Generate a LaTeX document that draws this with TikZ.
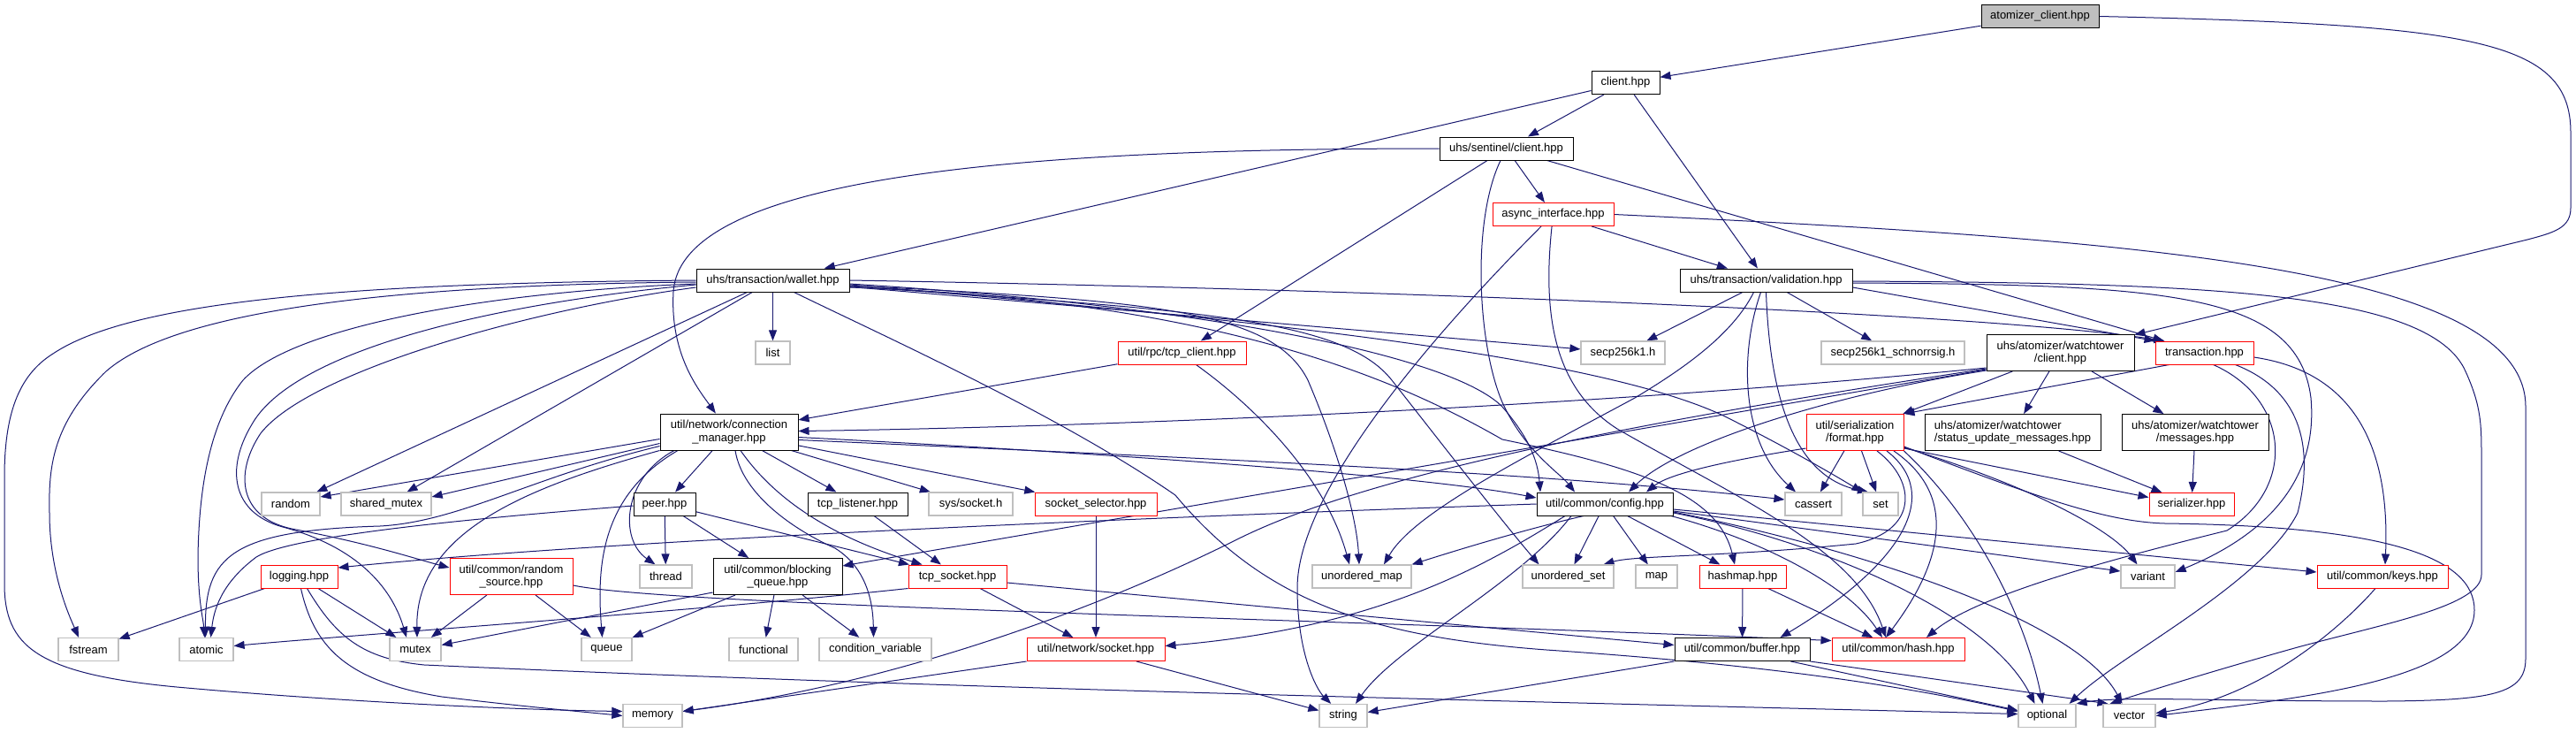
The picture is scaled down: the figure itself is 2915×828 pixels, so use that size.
\documentclass[tikz,border=0pt]{standalone}
\usepackage{fontspec}
\setmainfont{Liberation Sans}
\usetikzlibrary{arrows.meta}
\pgfdeclarelayer{bgfill}
\pgfdeclarelayer{background}
\pgfsetlayers{bgfill,background,main}
\definecolor{edgeblue}{HTML}{191970}
\definecolor{extgray}{HTML}{BFBFBF}
\definecolor{rootgray}{HTML}{BFBFBF}
\definecolor{trnred}{HTML}{FF0000}
\begin{document}
\begin{tikzpicture}[x=1pt,y=-1pt,
  box/.style={draw=black, line width=1pt, fill=white, inner sep=0pt, minimum height=26pt, font=\fontsize{13}{14.5}\selectfont, align=center, text=black},
  dbl/.style={minimum height=41pt},
  ext/.style={box, draw=extgray, line width=1.2pt},
  trn/.style={box, draw=trnred},
  root/.style={box, fill=rootgray},
  edge/.style={draw=edgeblue, line width=1pt, -{Triangle[length=12pt,width=9pt]}}
]
\useasboundingbox (0,0) rectangle (2915,828);
\begin{pgfonlayer}{bgfill}
\fill[white] (0,0) rectangle (2915,828);
\end{pgfonlayer}
% ---------- nodes ----------
\node[root, minimum width=133pt] (ac) at (2308.5,18.5) {atomizer\_client.hpp};
\node[box, minimum width=77pt] (cl) at (1839.5,93.5) {client.hpp};
\node[box, minimum width=151pt] (sc) at (1704.5,168) {uhs/sentinel/client.hpp};
\node[trn, minimum width=137pt] (ai) at (1757.5,242.5) {async\_interface.hpp};
\node[box, minimum width=173pt] (wa) at (874.5,317) {uhs/transaction/wallet.hpp};
\node[box, minimum width=195pt] (va) at (1998.5,317) {uhs/transaction/validation.hpp};
\node[ext, minimum width=39pt] (li) at (874.5,399) {list};
\node[trn, minimum width=145pt] (tc) at (1337.5,399) {util/rpc/tcp\_client.hpp};
\node[ext, minimum width=95pt] (s1) at (1836.5,399) {secp256k1.h};
\node[ext, minimum width=162pt] (s2) at (2142,399) {secp256k1\_schnorrsig.h};
\node[box, dbl, minimum width=167pt] (wc) at (2331.5,399) {uhs/atomizer/watchtower\\/client.hpp};
\node[trn, minimum width=111pt] (tr) at (2494.5,399) {transaction.hpp};
\node[box, dbl, minimum width=156pt] (cm) at (825,488.5) {util/network/connection\\\_manager.hpp};
\node[trn, dbl, minimum width=110pt] (fm) at (2099,489) {util/serialization\\/format.hpp};
\node[box, dbl, minimum width=199pt, align=left] (su) at (2277.5,489) {uhs/atomizer/watchtower\\/status\_update\_messages.hpp};
\node[box, dbl, minimum width=166pt] (ms) at (2484,489) {uhs/atomizer/watchtower\\/messages.hpp};
\node[ext, minimum width=66pt] (ra) at (329,570) {random};
\node[ext, minimum width=102pt] (sm) at (437,570) {shared\_mutex};
\node[box, minimum width=70pt] (pe) at (752,570) {peer.hpp};
\node[box, minimum width=113pt] (tl) at (970.5,570) {tcp\_listener.hpp};
\node[ext, minimum width=95pt] (ss) at (1098.5,570) {sys/socket.h};
\node[trn, minimum width=138pt] (sl) at (1240,570) {socket\_selector.hpp};
\node[box, minimum width=154pt] (cf) at (1816,570) {util/common/config.hpp};
\node[ext, minimum width=64pt] (ca) at (2052,570) {cassert};
\node[ext, minimum width=40pt] (se) at (2128,570) {set};
\node[trn, minimum width=96pt] (sz) at (2480,570.5) {serializer.hpp};
\node[trn, minimum width=87pt] (lo) at (338.5,652) {logging.hpp};
\node[trn, dbl, minimum width=139pt] (rs) at (578.5,652) {util/common/random\\\_source.hpp};
\node[ext, minimum width=59pt] (th) at (753.5,652) {thread};
\node[box, dbl, minimum width=146pt] (bq) at (880,652) {util/common/blocking\\\_queue.hpp};
\node[trn, minimum width=111pt] (ts) at (1083.5,652) {tcp\_socket.hpp};
\node[ext, minimum width=112pt] (um) at (1541,652) {unordered\_map};
\node[ext, minimum width=103pt] (us) at (1774.5,652) {unordered\_set};
\node[ext, minimum width=47pt] (mp) at (1874.5,652) {map};
\node[trn, minimum width=98pt] (hm) at (1972,652) {hashmap.hpp};
\node[ext, minimum width=61pt] (vr) at (2430.5,652) {variant};
\node[trn, minimum width=148pt] (ky) at (2696,652) {util/common/keys.hpp};
\node[ext, minimum width=68pt] (fs) at (100,734.5) {fstream};
\node[ext, minimum width=61pt] (atom) at (233.5,734.5) {atomic};
\node[ext, minimum width=58pt] (mu) at (470,734.5) {mutex};
\node[ext, minimum width=57pt] (qu) at (686.5,734.5) {queue};
\node[ext, minimum width=78pt] (fn) at (864,734.5) {functional};
\node[ext, minimum width=127pt] (cv) at (990.5,734.5) {condition\_variable};
\node[trn, minimum width=156pt] (so) at (1240,734.5) {util/network/socket.hpp};
\node[box, minimum width=153pt] (bu) at (1971.5,734.5) {util/common/buffer.hpp};
\node[trn, minimum width=150pt] (ha) at (2148,734.5) {util/common/hash.hpp};
\node[ext, minimum width=67pt] (me) at (738.5,809.5) {memory};
\node[ext, minimum width=54pt] (st) at (1520,809.5) {string};
\node[ext, minimum width=65pt] (op) at (2316.5,809.5) {optional};
\node[ext, minimum width=59pt] (ve) at (2409.5,809.5) {vector};
% ---------- edges ----------
\begin{pgfonlayer}{background}
% atomizer_client
\draw[edge] (ac) -- (cl);
\draw[edge] (ac.east) .. controls (2800,28) and (2909,45) .. (2909,150) -- (2909,235) .. controls (2909,258) and (2890,263) .. (2860,271) -- (wc);
% client
\draw[edge] (cl) -- (sc);
\draw[edge] (cl) -- (va);
\draw[edge] (cl) -- (wa);
% sentinel client
\draw[edge] (sc) -- (ai);
\draw[edge] (sc) -- (tr);
\draw[edge] (sc.west) .. controls (1150,168) and (770,200) .. (762,330) .. controls (758,400) and (790,440) .. (cm);
\draw[edge] (sc) -- (tc);
\draw[edge] (sc) .. controls (1665,250) and (1672,390) .. (1700,455) .. controls (1725,510) and (1765,535) .. ([xshift=-34pt]cf.north);
% async_interface
\draw[edge] (ai) -- (va);
\draw[edge] (ai) .. controls (1610,390) and (1468,560) .. (1468,665) .. controls (1468,740) and (1490,780) .. (st);
\draw[edge] (ai) .. controls (1745,360) and (1760,440) .. (1830,485) .. controls (1960,560) and (2100,620) .. ([xshift=-14pt]ha.north);
\draw[edge] (ai.east) .. controls (2400,270) and (2858,300) .. (2858,460) -- (2858,745) .. controls (2858,785) and (2820,792) .. (2700,793) .. controls (2500,793) and (2400,787) .. (op.north east);
% validation
\draw[edge] ([yshift=-8pt]va.east) -- (tr.north west);
\draw[edge] (va) -- (s1);
\draw[edge] (va) -- (s2);
\draw[edge] ([xshift=-6pt]va.south) .. controls (1968,400) and (1970,500) .. ([xshift=-20pt]ca.north);
\draw[edge] (va.south) .. controls (2003,460) and (2035,540) .. ([xshift=-14pt]se.north);
\draw[edge] ([xshift=-14pt]va.south) .. controls (1960,380) and (1900,420) .. (1850,450) .. controls (1720,520) and (1600,580) .. ([xshift=25pt]um.north);
\draw[edge] ([yshift=-3pt]va.east) .. controls (2450,322) and (2600,330) .. (2615,450) .. controls (2625,560) and (2540,615) .. ([yshift=5pt]vr.east);
\draw[edge] ([yshift=-1pt]va.east) .. controls (2500,320) and (2750,330) .. (2790,420) .. controls (2808,460) and (2808,480) .. (2808,520) -- (2808,650) .. controls (2808,685) and (2700,705) .. (2600,732) .. controls (2500,760) and (2420,785) .. ([xshift=-22pt]ve.north);
% wallet
\draw[edge] (wa) -- (li);
\draw[edge] (wa.west) .. controls (400,320) and (150,340) .. (60,400) .. controls (20,425) and (5,470) .. (5,540) -- (5,660) .. controls (5,730) and (40,762) .. (200,777) .. controls (400,795) and (600,803) .. ([yshift=5pt]me.west);
\draw[edge] ([yshift=-2pt]wa.west) .. controls (450,322) and (200,350) .. (120,420) .. controls (58,480) and (55,530) .. (56,580) .. controls (56,650) and (80,700) .. ([xshift=-11pt]fs.north);
\draw[edge] ([yshift=-4pt]wa.west) .. controls (550,330) and (330,370) .. (275,430) .. controls (235,480) and (225,560) .. (224,630) .. controls (224,680) and (230,700) .. ([xshift=-2pt]atom.north);
\draw[edge] ([yshift=-5pt]wa.west) .. controls (540,345) and (330,400) .. (285,480) .. controls (255,530) and (262,580) .. (320,596) .. controls (410,620) and (445,670) .. ([xshift=-10pt]mu.north);
\draw[edge] ([yshift=-8pt]wa.west) .. controls (600,350) and (350,420) .. (295,490) .. controls (265,535) and (270,585) .. (330,598) .. controls (420,615) and (470,632) .. ([yshift=10pt]rs.west);
\draw[edge] (wa) -- (ra);
\draw[edge] (wa) -- (sm);
\draw[edge] (wa.east) .. controls (1600,328) and (2250,355) .. ([xshift=-45pt]tr.north);
\draw[edge] (wa) -- (s1);
\draw[edge] ([yshift=-4pt]wa.east) .. controls (1350,345) and (1640,400) .. (1700,460) .. controls (1730,495) and (1740,520) .. ([xshift=-73pt]cf.north);
\draw[edge] ([yshift=-5pt]wa.east) .. controls (1400,360) and (1800,400) .. (1950,470) .. controls (2030,510) and (2080,540) .. (se.north west);
\draw[edge] ([yshift=-8pt]wa.east) .. controls (1400,340) and (1600,440) .. (1700,497) .. controls (1860,530) and (1945,560) .. ([xshift=-9pt]hm.north);
\draw[edge] ([yshift=-6pt]wa.east) .. controls (1300,340) and (1440,350) .. (1480,430) .. controls (1510,500) and (1535,580) .. ([xshift=-3pt]um.north);
\draw[edge] ([yshift=-7pt]wa.east) .. controls (1350,350) and (1520,360) .. (1575,430) .. controls (1630,500) and (1700,590) .. ([xshift=-33pt]us.north);
\draw[edge] ([xshift=24pt]wa.south) .. controls (1000,380) and (1200,470) .. (1330,560) .. controls (1430,680) and (1550,720) .. (1750,735) .. controls (2000,752) and (2150,775) .. ([yshift=5pt]op.west);
% tcp_client
\draw[edge] (tc) -- (cm);
\draw[edge] ([xshift=16pt]tc.south) .. controls (1420,460) and (1500,540) .. ([xshift=-14pt]um.north);
% watchtower client
\draw[edge] ([yshift=-17pt]wc.west) .. controls (1700,470) and (1100,485) .. ([yshift=1pt]cm.east);
\draw[edge] ([yshift=-19pt]wc.west) -- ([yshift=12pt]bq.east);
\draw[edge] ([yshift=-18pt]wc.west) .. controls (1900,470) and (1560,530) .. (1400,610) .. controls (1230,695) and (1000,775) .. ([yshift=5pt]me.east);
\draw[edge] ([yshift=-20pt]wc.west) .. controls (2080,445) and (1900,500) .. ([xshift=27pt]cf.north);
\draw[edge] (wc) -- (fm);
\draw[edge] (wc) -- (su);
\draw[edge] (wc) -- (ms);
% transaction
\draw[edge] ([xshift=-40pt]tr.south) -- (fm.north east);
\draw[edge] ([xshift=10pt]tr.south) .. controls (2590,450) and (2600,550) .. (2520,600) .. controls (2420,625) and (2240,670) .. ([xshift=32pt]ha.north);
\draw[edge] ([xshift=35pt]tr.south) .. controls (2600,440) and (2620,500) .. (2600,580) .. controls (2560,660) and (2400,740) .. ([xshift=-8pt]op.north east);
\draw[edge] ([yshift=-5pt]tr.east) .. controls (2660,420) and (2705,500) .. ([xshift=3pt]ky.north);
% format
\draw[edge] ([yshift=-18pt]fm.west) .. controls (1960,520) and (1890,535) .. ([xshift=47pt]cf.north);
\draw[edge] (fm) -- (ca);
\draw[edge] (fm) -- (se);
\draw[edge] ([xshift=25pt]fm.south) .. controls (2170,545) and (2170,600) .. (2100,615) .. controls (1950,630) and (1850,628) .. ([xshift=40pt]us.north);
\draw[edge] ([xshift=36pt]fm.south) .. controls (2200,560) and (2150,640) .. ([xshift=43pt]bu.north);
\draw[edge] ([xshift=44pt]fm.south) .. controls (2230,570) and (2180,660) .. ([xshift=-14pt]ha.north);
\draw[edge] (fm.south east) .. controls (2230,580) and (2290,690) .. ([xshift=-5pt]op.north);
\draw[edge] ([yshift=-17pt]fm.east) .. controls (2300,550) and (2390,600) .. ([xshift=-12pt]vr.north);
\draw[edge] ([yshift=-18pt]fm.east) -- ([yshift=8pt]sz.west);
\draw[edge] ([yshift=-16pt]fm.east) .. controls (2300,560) and (2380,590) .. (2450,592) .. controls (2700,595) and (2800,630) .. (2800,690) .. controls (2800,770) and (2600,790) .. (ve.east);
% config
\draw[edge] (cf.west) .. controls (1300,585) and (700,610) .. ([yshift=10pt]lo.east);
\draw[edge] ([xshift=-24pt]cf.south) .. controls (1720,600) and (1640,625) .. (um.north east);
\draw[edge] ([xshift=-45pt]cf.south) .. controls (1680,640) and (1560,710) .. ([yshift=4pt]so.east);
\draw[edge] ([xshift=-38pt]cf.south) .. controls (1720,660) and (1580,730) .. ([xshift=14pt]st.north);
\draw[edge] (cf) -- (us);
\draw[edge] (cf) -- (mp);
\draw[edge] (cf) -- (hm);
\draw[edge] ([xshift=75pt]cf.south) .. controls (1990,610) and (2090,660) .. ([xshift=-18pt]ha.north);
\draw[edge] ([yshift=-10pt]cf.east) .. controls (2050,610) and (2250,690) .. ([xshift=-14pt]op.north);
\draw[edge] ([yshift=-9pt]cf.east) .. controls (2100,620) and (2350,700) .. ([xshift=-8pt]ve.north);
\draw[edge] ([yshift=-8pt]cf.east) -- ([yshift=6pt]vr.west);
\draw[edge] ([yshift=-6pt]cf.east) -- ([yshift=5pt]ky.west);
% hashmap, buffer, keys
\draw[edge] (hm) -- (bu);
\draw[edge] (hm) -- (ha);
\draw[edge] (bu.south west) -- ([yshift=4pt]st.east);
\draw[edge] ([xshift=55pt]bu.south) -- ([yshift=6pt]op.west);
\draw[edge] (bu.south east) -- ([xshift=-24pt]ve.north);
\draw[edge] ([xshift=-8pt]ky.south) .. controls (2640,720) and (2550,790) .. ([yshift=3pt]ve.east);
% messages
\draw[edge] (su) -- (sz);
\draw[edge] (ms) -- (sz);
% connection manager
\draw[edge] ([yshift=-8pt]cm.west) -- ([yshift=8pt]ra.east);
\draw[edge] ([yshift=-13pt]cm.west) -- ([yshift=8pt]sm.east);
\draw[edge] ([yshift=-16pt]cm.west) .. controls (600,540) and (520,590) .. (430,595) .. controls (260,600) and (232,630) .. ([xshift=-1pt]atom.north);
\draw[edge] (cm.south west) .. controls (600,550) and (470,600) .. ([xshift=2pt]mu.north);
\draw[edge] ([xshift=-62pt]cm.south) .. controls (705,540) and (700,610) .. ([xshift=-12pt]th.north);
\draw[edge] ([xshift=-58pt]cm.south) .. controls (680,560) and (675,640) .. ([xshift=-5pt]qu.north);
\draw[edge] (cm) -- (pe);
\draw[edge] (cm) -- (tl);
\draw[edge] (cm) -- (ss);
\draw[edge] (cm) -- (sl);
\draw[edge] ([xshift=7pt]cm.south) .. controls (840,560) and (900,600) .. (945,620) .. controls (985,645) and (988,690) .. ([xshift=-2pt]cv.north);
\draw[edge] ([xshift=13pt]cm.south) .. controls (880,570) and (950,610) .. ([xshift=-40pt]ts.north);
\draw[edge] ([yshift=-6pt]cm.east) .. controls (1300,515) and (1620,540) .. ([yshift=7pt]cf.west);
\draw[edge] ([yshift=-9pt]cm.east) .. controls (1400,520) and (1750,535) .. ([yshift=5pt]ca.west);
% peer
\draw[edge] (pe) -- (th);
\draw[edge] (pe) -- (bq);
\draw[edge] (pe) -- (ts);
\draw[edge] ([yshift=-2pt]pe.west) .. controls (550,585) and (330,605) .. (290,630) .. controls (250,660) and (242,690) .. ([xshift=5pt]atom.north);
% listener, selector, tcp_socket, socket
\draw[edge] (tl) -- (ts);
\draw[edge] (sl) -- (so);
\draw[edge] (ts) -- (so);
\draw[edge] (ts.south west) .. controls (800,690) and (400,718) .. ([yshift=4pt]atom.east);
\draw[edge] ([yshift=-7pt]ts.east) -- ([yshift=5pt]bu.west);
\draw[edge] (so.south west) -- ([yshift=5pt]me.east);
\draw[edge] ([xshift=46pt]so.south) -- ([yshift=6pt]st.west);
% blocking queue
\draw[edge] ([yshift=-18pt]bq.west) -- ([yshift=5pt]mu.east);
\draw[edge] ([xshift=-48pt]bq.south) -- (qu.north east);
\draw[edge] (bq) -- (fn);
\draw[edge] (bq) -- (cv);
% random source
\draw[edge] (rs) -- (mu);
\draw[edge] (rs) -- (qu);
\draw[edge] ([yshift=-10pt]rs.east) .. controls (760,685) and (1500,700) .. ([yshift=10pt]ha.west);
% logging
\draw[edge] (lo) -- (fs);
\draw[edge] (lo) -- (mu);
\draw[edge] ([xshift=2pt]lo.south) .. controls (355,730) and (390,770) .. (500,788) .. controls (600,800) and (660,805) .. (me.west);
\draw[edge] ([xshift=9pt]lo.south) .. controls (380,720) and (410,745) .. (480,752) .. controls (1100,780) and (1800,795) .. ([yshift=2pt]op.west);
\end{pgfonlayer}
\end{tikzpicture}
\end{document}
